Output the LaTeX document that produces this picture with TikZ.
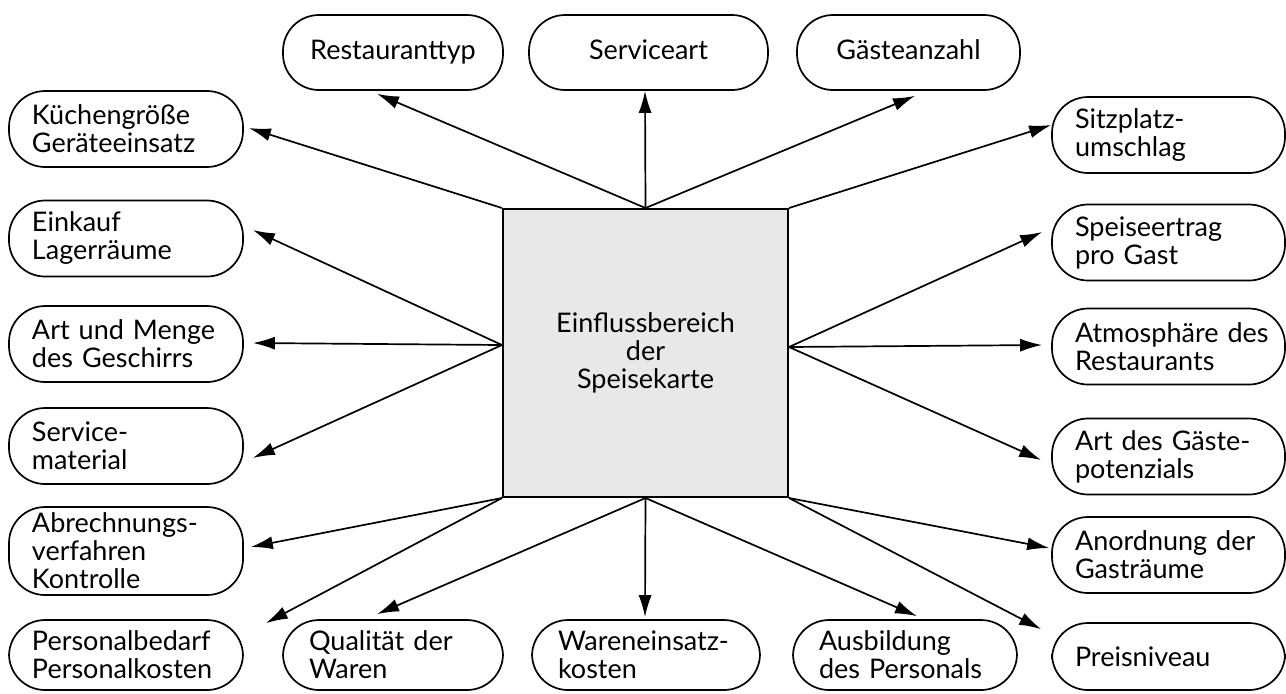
\documentclass[tikz,border=0pt]{standalone}
\usepackage{fontspec}
\setmainfont{Lato}
\usetikzlibrary{arrows.meta}
\newcommand\nf{\fontsize{13.5}{14}\selectfont}
\tikzset{
  pill/.style={draw, line width=0.85pt, rounded corners=18pt, inner ysep=0pt, font=\nf},
  sidebox/.style={pill, align=left, inner xsep=11.5pt, minimum height=38pt},
  topbox/.style={pill, align=center, inner xsep=0pt, minimum height=37.5pt, text height=10pt, text depth=3pt},
  botbox/.style={pill, align=left, inner xsep=13pt, minimum height=35pt},
  centre/.style={draw, line width=1pt, fill=gray!18, inner sep=0pt, align=center, font=\nf,
                 minimum width=142.5pt, minimum height=144pt},
  arr/.style={line width=0.85pt, -{Latex[length=11pt,width=6.5pt]}}
}
\begin{document}
\begin{tikzpicture}[x=0.5pt,y=-0.5pt]
\useasboundingbox (0,0) rectangle (1286,693);
\fill[white] (0,0) rectangle (1286,693);

\node[centre] (c) at (645.5,353) {Einflussbereich\\der\\Speisekarte};

% top row
\node[topbox, minimum width=110pt]   (rt) at (393,52.5)   {Restauranttyp};
\node[topbox, minimum width=119.5pt] (sa) at (648.5,52.5) {Serviceart};
\node[topbox, minimum width=111.5pt] (ga) at (908.5,52.5) {Gästeanzahl};

% left column
\node[sidebox, text width=94pt] (kg) at (126,129)   {Küchengröße\\Geräteeinsatz};
\node[sidebox, text width=94pt] (ek) at (126,238.5) {Einkauf\\Lagerräume};
\node[sidebox, text width=94pt] (am) at (126,344)   {\mbox{Art und Menge}\\\mbox{des Geschirrs}};
\node[sidebox, text width=94pt] (sm) at (126,446)   {Service-\\material};
\node[sidebox, text width=94pt, minimum height=44pt] (ab) at (126,551) {Abrechnungs-\\verfahren\\Kontrolle};
\node[sidebox, text width=94pt, minimum height=35pt] (pb) at (126,655) {Personalbedarf\\Personalkosten};

% bottom row
\node[botbox, text width=84pt] (qw) at (393,655) {\mbox{Qualität der}\\Waren};
\node[botbox, text width=88pt] (we) at (646,655) {Wareneinsatz-\\kosten};
\node[botbox, text width=86pt] (ap) at (905,655) {Ausbildung\\\mbox{des Personals}};

% right column
\node[sidebox, text width=93.5pt] (sp) at (1168.5,135)   {Sitzplatz-\\umschlag};
\node[sidebox, text width=93.5pt] (se) at (1168.5,242.5) {Speiseertrag\\\mbox{pro Gast}};
\node[sidebox, text width=93.5pt] (at) at (1168.5,346.5) {\mbox{Atmosphäre des}\\Restaurants};
\node[sidebox, text width=93.5pt] (ag) at (1168.5,456.5) {\mbox{Art des Gäste-}\\potenzials};
\node[sidebox, text width=93.5pt] (an) at (1168.5,555)   {\mbox{Anordnung der}\\Gasträume};
\node[sidebox, text width=93.5pt, minimum height=33.5pt] (pn) at (1168.5,656.5) {Preisniveau};

% connectors
\draw[arr] (c.north) -- ([xshift=-8pt,yshift=-1.5pt]rt.south);
\draw[arr] (c.north) -- ([xshift=-1.75pt]sa.south);
\draw[arr] (c.north) -- ([xshift=3.25pt,yshift=-2.5pt]ga.south);

\draw[arr] (c.north west) -- ([xshift=2.5pt,yshift=0.5pt]kg.east);
\draw[arr] ([yshift=4pt]c.west) -- ([xshift=4.5pt,yshift=4.25pt]ek.east);
\draw[arr] ([yshift=4pt]c.west) -- ([xshift=4.5pt,yshift=0.5pt]am.east);
\draw[arr] ([yshift=4pt]c.west) -- ([xshift=4.5pt,yshift=-6pt]sm.east);
\draw[arr] (c.south west) -- ([xshift=3.5pt,yshift=2pt]ab.east);
\draw[arr] (c.south west) -- ([xshift=11pt,yshift=-2pt]pb.north east);

\draw[arr] (c.south) -- ([xshift=-8pt,yshift=2.5pt]qw.north);
\draw[arr] (c.south) -- ([xshift=-0.5pt,yshift=1pt]we.north);
\draw[arr] (c.south) -- ([xshift=6pt,yshift=1.5pt]ap.north);

\draw[arr] (c.south east) -- ([xshift=-5pt,yshift=-3.5pt]pn.north west);
\draw[arr] (c.south east) -- ([xshift=-1pt,yshift=3.5pt]an.west);
\draw[arr] ([yshift=3pt]c.east) -- ([xshift=-5pt,yshift=-1.75pt]ag.west);
\draw[arr] ([yshift=3pt]c.east) -- ([xshift=-4.5pt,yshift=0.75pt]at.west);
\draw[arr] ([yshift=3pt]c.east) -- ([xshift=-4.5pt,yshift=5.25pt]se.west);
\draw[arr] (c.north east) -- ([yshift=5pt]sp.west);
\end{tikzpicture}
\end{document}
